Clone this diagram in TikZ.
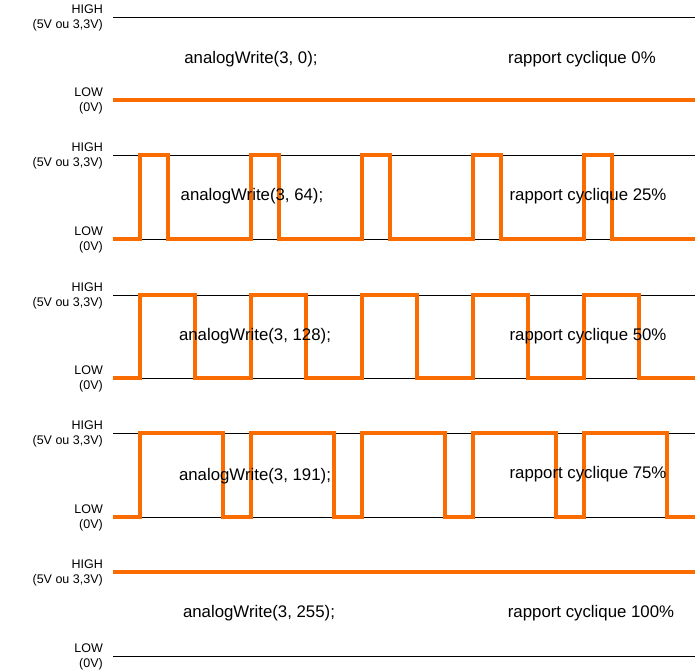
\documentclass[tikz,border=0pt]{standalone}
\usepackage{fontspec}
\setmainfont{Liberation Sans}
\definecolor{pwm}{RGB}{250,108,0}
\begin{document}
\begin{tikzpicture}[x=1pt,y=-1pt,
  lvl/.style={font=\fontsize{12.5}{14.5}\selectfont, align=right, anchor=east, inner sep=0pt},
  caption/.style={font=\fontsize{16.8}{19}\selectfont, inner sep=0pt},
  rail/.style={line width=0.8pt},
  signal/.style={pwm, line width=3.2pt}
]
\useasboundingbox (0,0) rectangle (700,671);
% levels and rails for the five panels
\foreach \hi/\lo in {17/100, 155/239, 295/378, 433/517, 572/656}{
  \node[lvl] at (103,\hi+1) {HIGH\\(5V ou 3,3V)};
  \node[lvl] at (103,\lo+1) {LOW\\(0V)};
  \draw[rail] (113,\hi) -- (695,\hi);
  \draw[rail] (113,\lo) -- (695,\lo);
}
% 0% and 100%
\draw[signal] (113,100) -- (695,100);
\draw[signal] (113,572) -- (695,572);
% pulses (high width per duty cycle)
\foreach \lo/\hi/\w in {239/155/28, 378/295/55, 517/433/83}{
  \draw[signal] (113,\lo)
    \foreach \s in {140,251,362,473,584}{
      -- (\s,\lo) -- (\s,\hi) -- (\s+\w,\hi) -- (\s+\w,\lo)
    } -- (695,\lo);
}
% captions
\node[caption] (aw0)   at (251,59)  {analogWrite(3, 0);};
\node[caption] (aw64)  at (252,196) {analogWrite(3, 64);};
\node[caption] (aw128) at (255,336) {analogWrite(3, 128);};
\node[caption] (aw191) at (255,476) {analogWrite(3, 191);};
\node[caption] (aw255) at (259,613) {analogWrite(3, 255);};
\node[caption] (rc0)   at (582,59)  {rapport cyclique 0\%};
\node[caption] (rc25)  at (588,196) {rapport cyclique 25\%};
\node[caption] (rc50)  at (588,336) {rapport cyclique 50\%};
\node[caption] (rc75)  at (588,474) {rapport cyclique 75\%};
\node[caption] (rc100) at (591,613) {rapport cyclique 100\%};
\end{tikzpicture}
\end{document}
